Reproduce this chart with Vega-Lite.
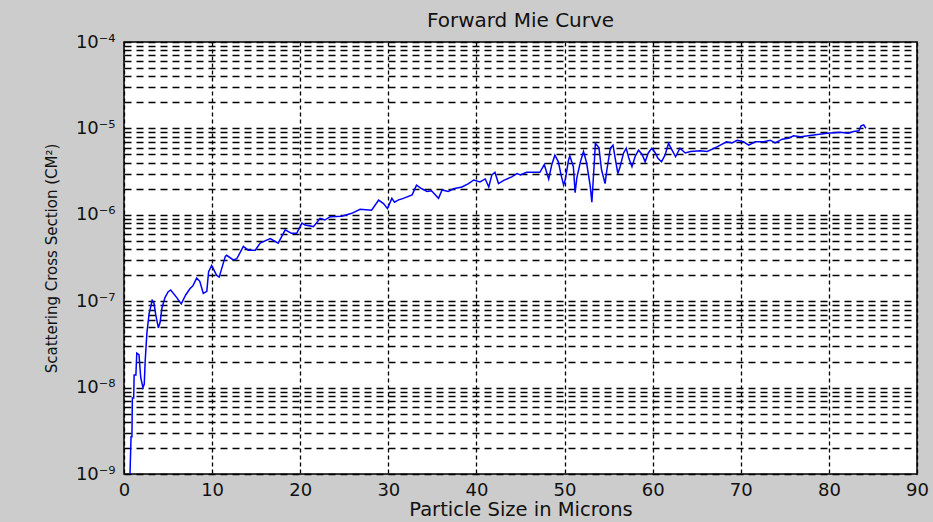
{
  "$schema": "https://vega.github.io/schema/vega-lite/v6.json",
  "width": 793,
  "height": 432,
  "autosize": {"type": "none"},
  "padding": {"left": 124, "top": 42, "right": 16, "bottom": 48},
  "background": "#cccccc",
  "title": {"text": "Forward Mie Curve", "font": "DejaVu Sans", "fontSize": 20, "fontWeight": "normal", "color": "#111111", "anchor": "middle", "baseline": "bottom", "offset": 9, "dy": 27},
  "config": {"view": {"fill": "white", "stroke": "black", "strokeWidth": 1.5}},
  "data": {"values": [
    {"x": 0.68, "y": 1.0e-9}, {"x": 0.8, "y": 2.7e-9}, {"x": 0.9, "y": 2.7e-9}, {"x": 0.95, "y": 7.6e-9}, {"x": 1.1, "y": 7.6e-9},
    {"x": 1.15, "y": 1.4e-8}, {"x": 1.35, "y": 1.4e-8}, {"x": 1.45, "y": 2.5e-8}, {"x": 1.7, "y": 2.4e-8}, {"x": 1.9, "y": 1.3e-8},
    {"x": 2.15, "y": 1.0e-8}, {"x": 2.3, "y": 1.1e-8}, {"x": 2.4, "y": 2.0e-8}, {"x": 2.6, "y": 4.3e-8}, {"x": 2.85, "y": 7.2e-8},
    {"x": 3.2, "y": 1.02e-7}, {"x": 3.4, "y": 9.5e-8}, {"x": 3.6, "y": 7.0e-8}, {"x": 3.9, "y": 4.9e-8}, {"x": 4.1, "y": 5.7e-8},
    {"x": 4.3, "y": 8.3e-8}, {"x": 4.65, "y": 1.1e-7}, {"x": 5.0, "y": 1.28e-7}, {"x": 5.3, "y": 1.35e-7}, {"x": 5.9, "y": 1.13e-7},
    {"x": 6.5, "y": 9.3e-8}, {"x": 7.0, "y": 1.18e-7}, {"x": 7.5, "y": 1.4e-7}, {"x": 7.8, "y": 1.5e-7}, {"x": 8.25, "y": 1.85e-7},
    {"x": 8.6, "y": 1.7e-7}, {"x": 9.0, "y": 1.23e-7}, {"x": 9.4, "y": 1.3e-7}, {"x": 9.6, "y": 2.2e-7}, {"x": 9.95, "y": 2.6e-7},
    {"x": 10.5, "y": 2.0e-7}, {"x": 10.8, "y": 1.9e-7}, {"x": 11.5, "y": 3.3e-7}, {"x": 11.65, "y": 3.4e-7}, {"x": 12.4, "y": 3.0e-7},
    {"x": 12.8, "y": 3.1e-7}, {"x": 13.55, "y": 4.3e-7}, {"x": 14.1, "y": 3.9e-7}, {"x": 14.9, "y": 3.9e-7}, {"x": 15.45, "y": 4.7e-7},
    {"x": 16.6, "y": 5.3e-7}, {"x": 17.5, "y": 4.7e-7}, {"x": 18.3, "y": 6.7e-7}, {"x": 19.0, "y": 6.1e-7}, {"x": 19.6, "y": 6.1e-7},
    {"x": 20.2, "y": 8.0e-7}, {"x": 20.55, "y": 7.6e-7}, {"x": 21.5, "y": 7.3e-7}, {"x": 22.25, "y": 9.1e-7}, {"x": 22.8, "y": 8.7e-7},
    {"x": 23.4, "y": 9.5e-7}, {"x": 24.7, "y": 9.6e-7}, {"x": 25.85, "y": 1.04e-6}, {"x": 26.8, "y": 1.16e-6}, {"x": 28.1, "y": 1.13e-6},
    {"x": 28.9, "y": 1.48e-6}, {"x": 29.45, "y": 1.35e-6}, {"x": 29.9, "y": 1.18e-6}, {"x": 30.4, "y": 1.55e-6}, {"x": 30.7, "y": 1.4e-6},
    {"x": 31.1, "y": 1.48e-6}, {"x": 31.7, "y": 1.55e-6}, {"x": 32.7, "y": 1.7e-6}, {"x": 33.2, "y": 2.2e-6}, {"x": 33.8, "y": 2.0e-6},
    {"x": 34.4, "y": 1.86e-6}, {"x": 34.9, "y": 1.9e-6}, {"x": 35.7, "y": 1.55e-6}, {"x": 36.1, "y": 1.94e-6}, {"x": 36.8, "y": 1.86e-6},
    {"x": 37.4, "y": 2.0e-6}, {"x": 38.35, "y": 2.1e-6}, {"x": 39.1, "y": 2.3e-6}, {"x": 39.7, "y": 2.53e-6}, {"x": 40.4, "y": 2.4e-6},
    {"x": 41.0, "y": 2.6e-6}, {"x": 41.4, "y": 2.1e-6}, {"x": 41.75, "y": 2.9e-6}, {"x": 42.1, "y": 3.1e-6}, {"x": 42.5, "y": 2.3e-6},
    {"x": 43.1, "y": 2.5e-6}, {"x": 44.0, "y": 2.75e-6}, {"x": 44.6, "y": 3.0e-6}, {"x": 45.0, "y": 2.9e-6}, {"x": 45.7, "y": 3.1e-6},
    {"x": 47.2, "y": 3.1e-6}, {"x": 47.7, "y": 3.8e-6}, {"x": 48.2, "y": 2.6e-6}, {"x": 48.55, "y": 3.8e-6}, {"x": 48.9, "y": 4.9e-6},
    {"x": 49.3, "y": 4.1e-6}, {"x": 49.6, "y": 2.9e-6}, {"x": 49.9, "y": 2.2e-6}, {"x": 50.1, "y": 2.6e-6}, {"x": 50.45, "y": 4.3e-6},
    {"x": 50.6, "y": 4.8e-6}, {"x": 51.0, "y": 3.6e-6}, {"x": 51.2, "y": 1.8e-6}, {"x": 51.4, "y": 2.7e-6}, {"x": 51.8, "y": 4.1e-6},
    {"x": 52.15, "y": 5.4e-6}, {"x": 52.5, "y": 4.0e-6}, {"x": 52.9, "y": 2.2e-6}, {"x": 53.1, "y": 1.4e-6}, {"x": 53.3, "y": 3.0e-6},
    {"x": 53.5, "y": 6.7e-6}, {"x": 53.9, "y": 6.0e-6}, {"x": 54.2, "y": 3.3e-6}, {"x": 54.6, "y": 2.3e-6}, {"x": 54.8, "y": 3.3e-6},
    {"x": 55.2, "y": 5.9e-6}, {"x": 55.5, "y": 6.4e-6}, {"x": 55.75, "y": 4.5e-6}, {"x": 56.05, "y": 3.0e-6}, {"x": 56.3, "y": 3.6e-6},
    {"x": 56.7, "y": 5.2e-6}, {"x": 57.0, "y": 5.9e-6}, {"x": 57.3, "y": 4.5e-6}, {"x": 57.65, "y": 3.6e-6}, {"x": 58.0, "y": 4.7e-6},
    {"x": 58.4, "y": 5.6e-6}, {"x": 58.8, "y": 5.0e-6}, {"x": 59.15, "y": 4.1e-6}, {"x": 59.5, "y": 5.2e-6}, {"x": 59.9, "y": 5.9e-6},
    {"x": 60.3, "y": 5.2e-6}, {"x": 60.6, "y": 4.5e-6}, {"x": 61.0, "y": 4.1e-6}, {"x": 61.4, "y": 4.9e-6}, {"x": 61.8, "y": 6.7e-6},
    {"x": 62.2, "y": 5.6e-6}, {"x": 62.6, "y": 4.7e-6}, {"x": 63.1, "y": 5.9e-6}, {"x": 63.7, "y": 5.2e-6}, {"x": 64.3, "y": 5.4e-6},
    {"x": 65.4, "y": 5.5e-6}, {"x": 66.2, "y": 5.4e-6}, {"x": 67.3, "y": 6.1e-6}, {"x": 68.4, "y": 7.0e-6}, {"x": 69.0, "y": 6.8e-6},
    {"x": 69.6, "y": 7.3e-6}, {"x": 70.3, "y": 7.0e-6}, {"x": 70.9, "y": 6.4e-6}, {"x": 71.65, "y": 7.0e-6}, {"x": 72.6, "y": 7.0e-6},
    {"x": 73.35, "y": 7.3e-6}, {"x": 73.9, "y": 6.8e-6}, {"x": 74.7, "y": 7.5e-6}, {"x": 75.4, "y": 7.7e-6}, {"x": 76.0, "y": 8.2e-6},
    {"x": 76.8, "y": 8.0e-6}, {"x": 78.3, "y": 8.4e-6}, {"x": 79.8, "y": 8.8e-6}, {"x": 81.3, "y": 9.0e-6}, {"x": 82.2, "y": 8.8e-6},
    {"x": 82.8, "y": 9.2e-6}, {"x": 83.4, "y": 9.4e-6}, {"x": 83.65, "y": 1.07e-5}, {"x": 83.95, "y": 1.1e-5}, {"x": 84.2, "y": 1.0e-5}
  ]},
  "mark": {"type": "line", "color": "#0000ff", "strokeWidth": 1.5, "clip": true},
  "encoding": {
    "x": {
      "field": "x", "type": "quantitative",
      "scale": {"domain": [0, 90], "nice": false, "zero": false},
      "axis": {
        "title": "Particle Size in Microns",
        "values": [0, 10, 20, 30, 40, 50, 60, 70, 80, 90],
        "grid": true, "gridColor": "#000000", "gridDash": [4, 3], "gridWidth": 1.3, "gridOpacity": 1,
        "domain": false, "ticks": false, "tickSize": 0,
        "labelPadding": 7, "labelFont": "DejaVu Sans", "labelFontSize": 18, "labelColor": "#111111",
        "labelFlush": false, "labelOverlap": false,
        "titleFont": "DejaVu Sans", "titleFontSize": 19.5, "titleFontWeight": "normal", "titleColor": "#111111", "titlePadding": 1
      }
    },
    "y": {
      "field": "y", "type": "quantitative",
      "scale": {"type": "log", "domain": [1e-9, 1e-4], "nice": false},
      "axis": {
        "title": "Scattering Cross Section (CM²)",
        "values": [1e-9, 2e-9, 3e-9, 4e-9, 5e-9, 6e-9, 7e-9, 8e-9, 9e-9,
                   1e-8, 2e-8, 3e-8, 4e-8, 5e-8, 6e-8, 7e-8, 8e-8, 9e-8,
                   1e-7, 2e-7, 3e-7, 4e-7, 5e-7, 6e-7, 7e-7, 8e-7, 9e-7,
                   1e-6, 2e-6, 3e-6, 4e-6, 5e-6, 6e-6, 7e-6, 8e-6, 9e-6,
                   1e-5, 2e-5, 3e-5, 4e-5, 5e-5, 6e-5, 7e-5, 8e-5, 9e-5, 1e-4],
        "labelExpr": "abs(log(datum.value)/LN10 - round(log(datum.value)/LN10)) < 0.001 ? '10⁻' + ['⁰','¹','²','³','⁴','⁵','⁶','⁷','⁸','⁹'][-round(log(datum.value)/LN10)] : ''",
        "grid": true, "gridColor": "#000000", "gridDash": [7, 5], "gridWidth": 1.3, "gridOpacity": 1,
        "domain": false, "ticks": false, "tickSize": 0,
        "labelPadding": 9, "labelFont": "DejaVu Sans", "labelFontSize": 18, "labelColor": "#111111",
        "labelFlush": false, "labelOverlap": false,
        "titleFont": "DejaVu Sans", "titleFontSize": 15, "titleFontWeight": "normal", "titleColor": "#111111", "titlePadding": 16
      }
    }
  }
}
